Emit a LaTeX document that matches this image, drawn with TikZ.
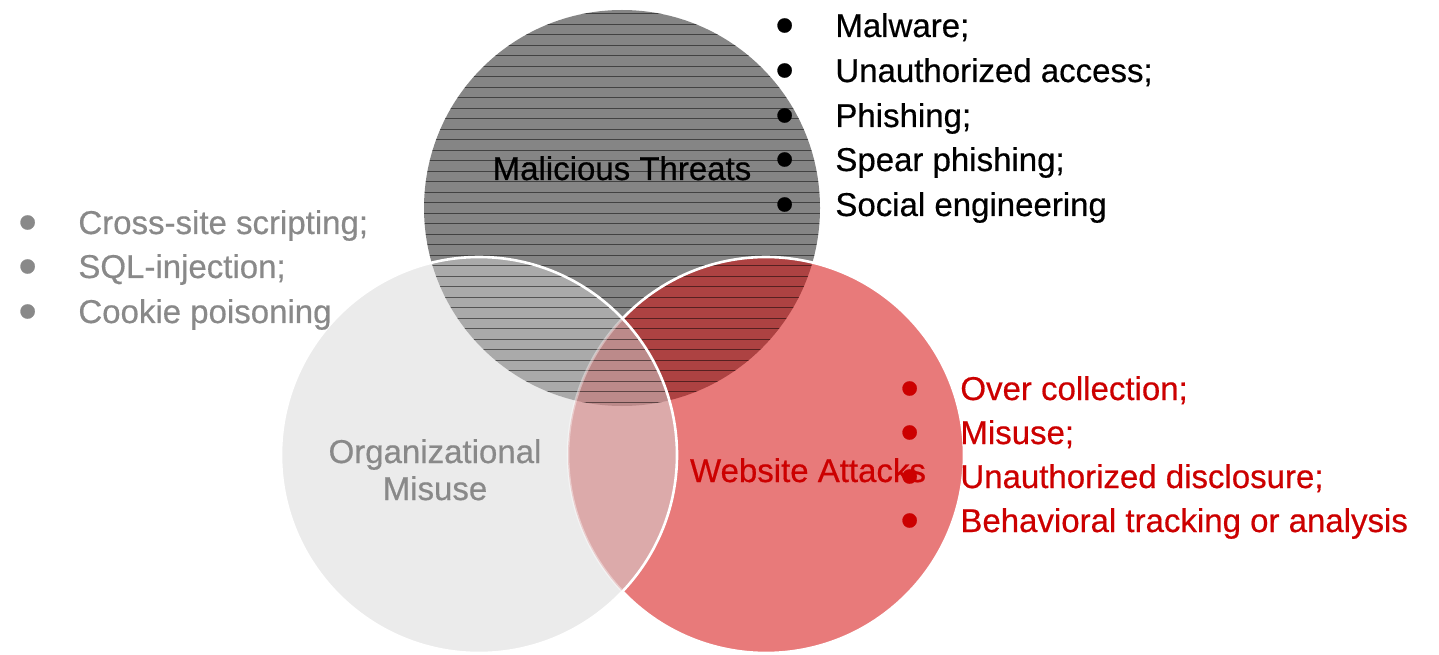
\documentclass[tikz,border=0pt]{standalone}
\usepackage{fontspec}
\setmainfont{Liberation Sans}[FakeBold=0.5]
\usepackage{tikz}
\usetikzlibrary{positioning}

\definecolor{threatgray}{HTML}{858585}
\definecolor{misusegray}{HTML}{EBEBEB}
\definecolor{attackred}{HTML}{E87A7A}
\definecolor{tmgray}{HTML}{AAAAAA}
\definecolor{tared}{HTML}{AD4242}
\definecolor{mapink}{HTML}{DCAAAA}
\definecolor{allmauve}{HTML}{BC8A8A}
\definecolor{labelgray}{HTML}{898989}
\definecolor{labelred}{HTML}{CC0000}

\newcommand{\itm}[1]{\makebox[30pt][l]{\smash{\raisebox{-3pt}{\scalebox{1.6}{\textbullet}}}}#1}

\tikzset{%
	ring/.style = {
		draw=white, line width=1.3pt
	},
	stripe/.style = {
		draw=black, opacity=0.5, line width=0.4pt
	},
	title/.style = {
		anchor=base, inner sep=0pt,
		font=\fontsize{16.5}{18.5}\selectfont
	},
	item/.style = {
		anchor=base west, inner sep=0pt,
		font=\fontsize{16.5}{22}\selectfont
	}
}

\begin{document}
\begin{tikzpicture}[x=0.5pt, y=0.5pt]
    \useasboundingbox (0,0) rectangle (1439,654);
    % centres of the three sets
    \coordinate (mt) at (622,446);
    \coordinate (om) at (479,199);
    \coordinate (wa) at (766,199);

    % fills, region by region
    \fill[threatgray] (mt) circle[radius=99pt];
    \fill[attackred]  (wa) circle[radius=99pt];
    \begin{scope}
        \clip (mt) circle[radius=99pt];
        \fill[tared] (wa) circle[radius=99pt];
    \end{scope}
    \fill[misusegray] (om) circle[radius=99pt];
    \begin{scope}
        \clip (om) circle[radius=99pt];
        \fill[tmgray] (mt) circle[radius=99pt];
        \fill[mapink] (wa) circle[radius=99pt];
        \clip (wa) circle[radius=99pt];
        \fill[allmauve] (mt) circle[radius=99pt];
    \end{scope}

    % stripes of the top set
    \begin{scope}
        \clip (mt) circle[radius=99pt];
        \foreach \yy in {252,262.5,...,642}
            \draw[stripe] (420,\yy) -- (824,\yy);
    \end{scope}

    % white rims
    \draw[ring, opacity=0.4] (wa) ++(136.45:99pt) arc[start angle=136.45, end angle=223.55, radius=99pt];
    \draw[ring] (wa) ++(223.55:99pt) arc[start angle=223.55, end angle=496.45, radius=99pt];
    \draw[ring] (om) circle[radius=99pt];

    % set names
    \node (mtlabel) [title]                   at (622,474) {Malicious Threats};
    \node (omlabel) [title, text=labelgray, align=center] at (435,154) {Organizational\\Misuse};
    \node (walabel) [title, text=labelred]    at (808,172) {Website Attacks};

    % malicious threats list
    \node (malware)  [item] at (775,617) {\itm{Malware;}};
    \node (unauth)   [item] at (775,572) {\itm{Unauthorized access;}};
    \node (phish)    [item] at (775,527) {\itm{Phishing;}};
    \node (spear)    [item] at (775,483) {\itm{Spear phishing;}};
    \node (social)   [item] at (775,438) {\itm{Social engineering}};

    % organizational misuse list
    \node (xss)      [item, text=labelgray] at (18,420) {\itm{Cross-site scripting;}};
    \node (sqli)     [item, text=labelgray] at (18,376) {\itm{SQL-injection;}};
    \node (cookie)   [item, text=labelgray] at (18,331) {\itm{Cookie poisoning}};

    % website attacks list
    \node (overcol)  [item, text=labelred] at (900,254) {\itm{Over collection;}};
    \node (misuse)   [item, text=labelred] at (900,210) {\itm{Misuse;}};
    \node (disclose) [item, text=labelred] at (900,166) {\itm{Unauthorized disclosure;}};
    \node (tracking) [item, text=labelred] at (900,122) {\itm{Behavioral tracking or analysis}};

\end{tikzpicture}
\end{document}
